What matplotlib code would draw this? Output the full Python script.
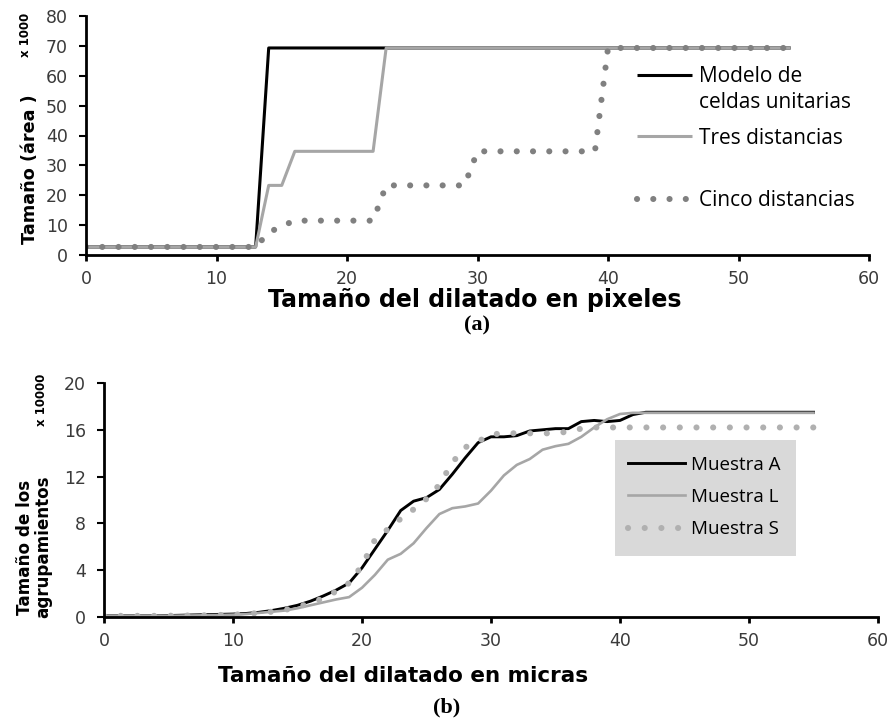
import matplotlib
matplotlib.use("Agg")
import matplotlib.pyplot as plt
from matplotlib.patches import Rectangle

W, H = 888, 721

## (a) data  -- dilation size in pixels vs area (x1000)
a_modelo_x = [0, 13, 14, 54]
a_modelo_y = [2.7, 2.7, 69.3, 69.3]
a_tres_x = [0, 13, 14, 15, 16, 22, 23, 54]
a_tres_y = [2.7, 2.7, 23.3, 23.3, 34.7, 34.7, 69.3, 69.3]
a_cinco_x = [0, 13, 14, 15, 16, 22, 23, 29, 30, 39, 40, 54]
a_cinco_y = [2.7, 2.7, 7.5, 9.7, 11.5, 11.5, 23.3, 23.3, 34.7, 34.7, 69.3, 69.3]
a_labels = ["Modelo de", "Tres distancias", "Cinco distancias"]
a_label_cont = "celdas unitarias"

## (b) data  -- dilation size in microns vs cluster size (x10000)
b_x = [0, 2, 4, 6, 8, 10, 11, 12, 13, 14, 15, 16, 17, 18, 19, 20, 21, 22, 23, 24,
       25, 26, 27, 28, 29, 30, 31, 32, 33, 34, 35, 36, 37, 38, 39, 40, 41, 42, 55]
b_A = [0.1, 0.1, 0.1, 0.15, 0.2, 0.25, 0.3, 0.4, 0.55, 0.75, 1.0, 1.35, 1.8, 2.3, 2.9,
       4.2, 5.8, 7.4, 9.1, 9.9, 10.2, 10.9, 12.2, 13.6, 14.9, 15.4, 15.4, 15.5, 15.9,
       16.0, 16.1, 16.1, 16.7, 16.8, 16.7, 16.8, 17.3, 17.5, 17.5]
b_L = [0.1, 0.1, 0.1, 0.12, 0.15, 0.2, 0.25, 0.35, 0.45, 0.55, 0.75, 1.0, 1.25, 1.5, 1.7,
       2.5, 3.6, 4.9, 5.4, 6.3, 7.6, 8.8, 9.3, 9.45, 9.7, 10.8, 12.1, 13.0, 13.5,
       14.3, 14.6, 14.8, 15.4, 16.2, 16.9, 17.35, 17.45, 17.45, 17.45]
b_S = [0.1, 0.1, 0.1, 0.12, 0.15, 0.2, 0.25, 0.35, 0.45, 0.6, 0.85, 1.2, 1.6, 2.2, 2.9,
       4.4, 6.6, 7.5, 8.4, 9.2, 10.1, 11.3, 13.2, 14.5, 15.0, 15.6, 15.7, 15.7, 15.7,
       15.7, 15.7, 15.85, 16.1, 16.2, 16.2, 16.2, 16.2, 16.2, 16.2]
b_labels = ["Muestra A", "Muestra L", "Muestra S"]

xticks = [0, 10, 20, 30, 40, 50, 60]
a_yticks = [0, 10, 20, 30, 40, 50, 60, 70, 80]
b_yticks = [0, 4, 8, 12, 16, 20]

TICKC = "#3a3a3a"
LEGFONT = "Open Sans"

fig = plt.figure(figsize=(W / 100, H / 100), dpi=100)


def fx(px):
    return px / W


def fy(py):
    return 1 - py / H


def style_axes(ax, yticks, ypad, xpad):
    for s in ["top", "right"]:
        ax.spines[s].set_visible(False)
    for s in ["left", "bottom"]:
        ax.spines[s].set_linewidth(2.0)
        ax.spines[s].set_color("black")
    ax.set_xlim(0, 60)
    ax.set_xticks(xticks)
    ax.set_ylim(yticks[0], yticks[-1])
    ax.set_yticks(yticks)
    ax.tick_params(axis="x", direction="out", length=4, width=2, pad=xpad,
                   labelsize=12.5, labelcolor=TICKC)
    ax.tick_params(axis="y", direction="out", length=5, width=1.5, pad=ypad,
                   labelsize=12.5, labelcolor=TICKC)


## ---- (a)
ax1 = fig.add_axes([fx(86), fy(255), fx(869) - fx(86), fy(16) - fy(255)])
l1, = ax1.plot(a_modelo_x, a_modelo_y, color="black", lw=2.2, solid_capstyle="butt")
l2, = ax1.plot(a_tres_x, a_tres_y, color="#a6a6a6", lw=2.2, solid_capstyle="butt")
l3, = ax1.plot(a_cinco_x, a_cinco_y, color="#808080", lw=4.4,
               linestyle=(0, (0.01, 2.65)), dash_capstyle="round")
style_axes(ax1, a_yticks, ypad=8, xpad=7)

for h, lab, y in zip([l1, l2, l3], a_labels, [77, 138, 201]):
    fig.legend([h], [lab], loc="center left", bbox_to_anchor=(fx(637), fy(y)),
               frameon=False, borderpad=0, borderaxespad=0, handlelength=2.65,
               handletextpad=0.33, prop={"family": LEGFONT, "size": 15})
fig.text(fx(699), fy(103), a_label_cont, ha="left", va="center",
         family=LEGFONT, fontsize=15)

fig.text(fx(475), fy(300), "Tamaño del dilatado en pixeles", ha="center", va="center",
         fontsize=17, fontweight="bold")
fig.text(fx(477), fy(325), "(a)", ha="center", va="center", fontsize=16,
         fontweight="bold", family="Liberation Serif")
fig.text(fx(30), fy(169), "Tamaño (área )", ha="center", va="center", rotation=90,
         fontsize=12.7, fontweight="bold")
fig.text(fx(25.5), fy(35), "x 1000", ha="center", va="center", rotation=90,
         fontsize=8.5, fontweight="bold")

## ---- (b)
ax2 = fig.add_axes([fx(104), fy(617), fx(878) - fx(104), fy(383) - fy(617)])
m1, = ax2.plot(b_x, b_A, color="black", lw=2.1)
m2, = ax2.plot(b_x, b_L, color="#a6a6a6", lw=1.9)
m3, = ax2.plot(b_x, b_S, color="#b0b0b0", lw=4.4,
               linestyle=(0, (0.01, 2.72)), dash_capstyle="round")
style_axes(ax2, b_yticks, ypad=8, xpad=7)

ax2.add_patch(Rectangle((fx(615), fy(556)), fx(796) - fx(615), fy(440) - fy(556),
                        transform=fig.transFigure, facecolor="#d9d9d9",
                        edgecolor="none", clip_on=False, zorder=0))
fig.legend([m1, m2, m3], b_labels, loc="center left", bbox_to_anchor=(fx(628), fy(497)),
           frameon=False, borderpad=0, borderaxespad=0, handlelength=3.05,
           handletextpad=0.33, labelspacing=0.75, prop={"family": LEGFONT, "size": 13.5})

fig.text(fx(403), fy(676), "Tamaño del dilatado en micras", ha="center", va="center",
         fontsize=15.5, fontweight="bold")
fig.text(fx(447), fy(707), "(b)", ha="center", va="center", fontsize=16,
         fontweight="bold", family="Liberation Serif")
fig.text(fx(34), fy(547), "Tamaño de los\nagrupamientos", ha="center", va="center",
         rotation=90, fontsize=12.1, fontweight="bold", linespacing=1.0)
fig.text(fx(41), fy(400), "x 10000", ha="center", va="center", rotation=90,
         fontsize=8.5, fontweight="bold")

fig.savefig("out.png", dpi=100)
